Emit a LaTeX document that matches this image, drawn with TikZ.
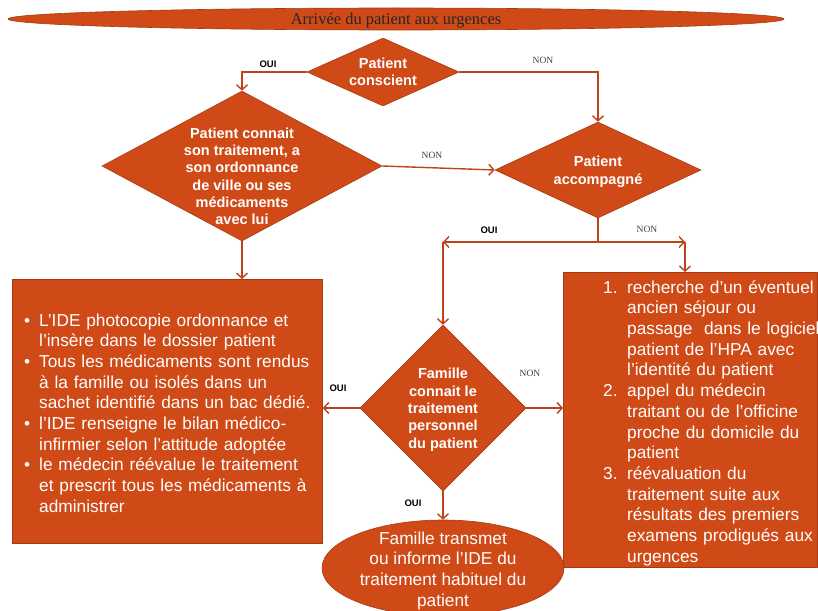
\documentclass[tikz,border=0pt]{standalone}
\usepackage{fontspec}
\setmainfont{Liberation Sans}
\newfontfamily\seriffont{Liberation Serif}
\usetikzlibrary{shapes.geometric,arrows.meta}
\definecolor{fillc}{RGB}{208,74,23}
\definecolor{edgec}{RGB}{165,58,18}
\definecolor{linec}{RGB}{188,68,26}
\hyphenpenalty=10000
\exhyphenpenalty=10000
\newcommand{\bitem}[1]{\par\noindent\hangindent=15pt\hangafter=1\makebox[15pt][l]{\textbullet}#1}
\newcommand{\nitem}[2]{\par\noindent\hangindent=24pt\hangafter=1\makebox[24pt][l]{#1}#2}
\begin{document}
\begin{tikzpicture}[x=1pt,y=-1pt,
  box/.style={draw=edgec, line width=0.8pt, fill=fillc},
  dia/.style={diamond, draw=edgec, line width=0.6pt, fill=fillc, inner sep=0pt},
  ell/.style={ellipse, draw=edgec, line width=0.6pt, fill=fillc, inner sep=0pt},
  dtext/.style={text=white, font=\bfseries\fontsize{14.5}{17.3}\selectfont, align=center, inner sep=0pt},
  btext/.style={text=white, font=\fontsize{17.3}{20.7}\selectfont, inner sep=0pt},
  conn/.style={draw=linec, line width=1.4pt},
  arr/.style={conn, -{Straight Barb[length=5pt,width=11pt]}},
  oui/.style={font=\bfseries\fontsize{9.5}{10}\selectfont, inner sep=0pt},
  non/.style={font=\seriffont\fontsize{9.5}{10}\selectfont, text=black!75, inner sep=0pt},
]
\useasboundingbox[fill=white] (0,0) rectangle (818,610);

% title
\node[ell, minimum width=776pt, minimum height=22pt] (title) at (396,19) {};
\node[anchor=base, inner sep=0pt, text=black!85, font=\seriffont\fontsize{16.5}{19}\selectfont] (titletext) at (396,24.5) {Arrivée du patient aux urgences};

% diamonds
\node[dia, minimum width=152pt, minimum height=68pt] (d1) at (383,72) {};
\node[dtext] (d1t) at (383,73.5) {\strut Patient\\conscient\strut};

\node[dia, minimum width=280pt, minimum height=150pt] (d2) at (242,166) {};
\node[dtext] (d2t) at (242,178) {\strut Patient connait\\son traitement, a\\son ordonnance\\de ville ou ses\\médicaments\\avec lui\strut};

\node[dia, minimum width=206pt, minimum height=96pt] (d3) at (598,170) {};
\node[dtext] (d3t) at (598,172) {\strut Patient\\accompagné\strut};

\node[dia, minimum width=166pt, minimum height=166pt] (d4) at (443,408) {};
\node[dtext] (d4t) at (443,410) {\strut Famille\\connait le\\traitement\\personnel\\du patient\strut};

% boxes
\node[box, anchor=north west, minimum width=310pt, minimum height=264pt, inner sep=0pt] (lrect) at (12,279) {};
\node[btext, anchor=west, text width=300pt, align=left] (ltext) at (24,412) {%
\bitem{\strut L’IDE photocopie ordonnance et\newline l’insère dans le dossier patient}%
\bitem{Tous les médicaments sont rendus\newline à la famille ou isolés dans un\newline sachet identifié dans un bac dédié.}%
\bitem{l’IDE renseigne le bilan médico-\newline infirmier selon l’attitude adoptée}%
\bitem{le médecin réévalue le traitement\newline et prescrit tous les médicaments à\newline administrer\strut}\par};

\node[box, anchor=north west, minimum width=254pt, minimum height=295pt, inner sep=0pt] (rrect) at (563,272) {};
\node[btext, anchor=west, text width=240pt, align=left] (rtext) at (603,420.5) {%
\nitem{1.}{\strut recherche d’un éventuel\newline ancien séjour ou\newline passage\ \ dans le logiciel\newline patient de l’HPA avec\newline l’identité du patient}%
\nitem{2.}{appel du médecin\newline traitant ou de l’officine\newline proche du domicile du\newline patient}%
\nitem{3.}{réévaluation du\newline traitement suite aux\newline résultats des premiers\newline examens prodigués aux\newline urgences\strut}\par};

\node[ell, minimum width=242pt, minimum height=96pt] (bell) at (443,568) {};
\node[btext, align=center] (belltext) at (443,571) {\strut Famille transmet\\ou informe l’IDE du\\traitement habituel du\\patient\strut};

% junction coordinates
\coordinate (j) at (598,242);
\coordinate (jl) at (443,242);
\coordinate (jr) at (685,242);

% connectors
\draw[arr] (d1.west) -| (d2.north);
\draw[arr] (d1.east) -| (d3.north);
\draw[arr] (d2.east) -- (d3.west);
\draw[arr] (d2.south) -- (d2.south |- lrect.north);
\draw[conn] (d3.south) -- (j);
\draw[arr] (j) -- (jl);
\draw[arr] (j) -- (jr);
\draw[arr] (jl) -- (d4.north);
\draw[arr] (jr) -- (jr |- rrect.north);
\draw[arr] (d4.west) -- (d4.west -| lrect.east);
\draw[arr] (d4.east) -- (d4.east -| rrect.west);
\draw[arr] (d4.south) -- (bell.north);

% labels
\node[oui] (l1) at (268,64) {OUI};
\node[non] (l2) at (543,60) {NON};
\node[non] (l3) at (432,155) {NON};
\node[oui] (l4) at (489,230) {OUI};
\node[non] (l5) at (647,229) {NON};
\node[oui] (l6) at (338,388) {OUI};
\node[non] (l7) at (530,373) {NON};
\node[oui] (l8) at (413,503) {OUI};
\end{tikzpicture}
\end{document}
